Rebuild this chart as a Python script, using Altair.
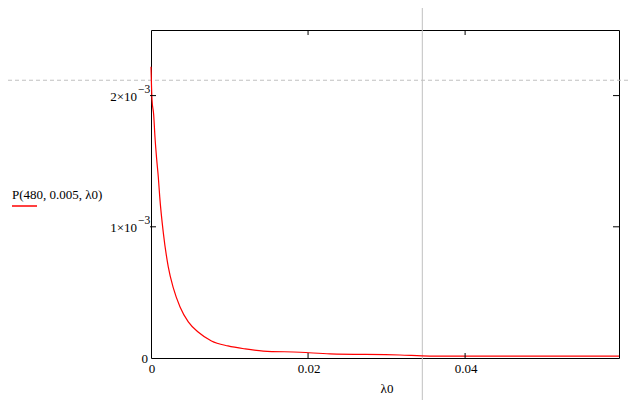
import altair as alt
import pandas as pd

# curve values
lam = [0, 0.000127, 0.00034, 0.00051, 0.00073, 0.00093, 0.00111, 0.00157, 0.0022,
       0.00284, 0.0037, 0.00475, 0.0060, 0.0077, 0.0098, 0.012, 0.0143, 0.019,
       0.0228, 0.0317, 0.0355, 0.0596]
P = [2.22e-3, 1.97e-3, 1.855e-3, 1.68e-3, 1.51e-3, 1.38e-3, 1.23e-3, 0.954e-3, 0.695e-3,
     0.534e-3, 0.389e-3, 0.275e-3, 0.198e-3, 0.130e-3, 0.092e-3, 0.069e-3, 0.053e-3, 0.044e-3,
     0.031e-3, 0.023e-3, 0.015e-3, 0.015e-3]

x_ticks = [0, 0.02, 0.04]
x_tick_labels = ["0", "0.02", "0.04"]
y_ticks = [0, 1e-3, 2e-3]
y_tick_main = ["0", "1×10", "2×10"]
y_tick_exp = ["", "−3", "−3"]
cross_x = [0.03455]
cross_y = [2.117e-3]
legend_label = ["P(480, 0.005, λ0)"]
x_title = ["λ0"]

W, H = 468, 328
FONT = "Liberation Serif"

xs = alt.Scale(domain=[0, 0.0596], nice=False, zero=False)
ys = alt.Scale(domain=[0, 0.0025], nice=False, zero=False)

curve = pd.DataFrame({"lam": lam, "P": P})
xt = pd.DataFrame({"v": x_ticks, "t": x_tick_labels})
yt = pd.DataFrame({"v": y_ticks, "m": y_tick_main, "e": y_tick_exp})
cx = pd.DataFrame({"v": cross_x})
cy = pd.DataFrame({"v": cross_y})
lg = pd.DataFrame({"t": legend_label})
xtit = pd.DataFrame({"t": x_title})

X = lambda f: alt.X(f, type="quantitative", scale=xs, axis=None)
Y = lambda f: alt.Y(f, type="quantitative", scale=ys, axis=None)

vline = alt.Chart(cx).mark_rule(color="#c0c0c0", strokeWidth=1).encode(
    x=X("v"), y=alt.value(-22), y2=alt.value(H + 42))
hline = alt.Chart(cy).mark_rule(color="#c0c0c0", strokeWidth=1, strokeDash=[4, 3]).encode(
    y=Y("v"), x=alt.value(-143), x2=alt.value(W + 9))

line = alt.Chart(curve).mark_line(color="#ff0000", strokeWidth=1.2, interpolate="monotone").encode(
    x=X("lam"), y=Y("P"))

xt_nz = alt.Chart(xt).transform_filter("datum.v > 0")
tick_b = xt_nz.mark_rule(color="black").encode(x=X("v"), y=alt.value(H), y2=alt.value(H - 5))
tick_t = xt_nz.mark_rule(color="black").encode(x=X("v"), y=alt.value(0), y2=alt.value(5))
yt_nz = alt.Chart(yt).transform_filter("datum.v > 0")
tick_l = yt_nz.mark_rule(color="black").encode(y=Y("v"), x=alt.value(-1), x2=alt.value(5))
tick_r = yt_nz.mark_rule(color="black").encode(y=Y("v"), x=alt.value(W - 6), x2=alt.value(W))

xlab = alt.Chart(xt).mark_text(font=FONT, fontSize=13, color="black", baseline="middle",
                               align="center", dx=1).encode(
    x=X("v"), y=alt.value(H + 11), text="t:N")

ylab_zero = alt.Chart(yt).transform_filter("datum.v == 0").mark_text(
    font=FONT, fontSize=13, color="black", baseline="middle", align="right", dy=1).encode(
    y=Y("v"), x=alt.value(-3), text="m:N")
ylab_main = yt_nz.mark_text(font=FONT, fontSize=13, color="black", baseline="middle",
                            align="right", dy=1.5).encode(
    y=Y("v"), x=alt.value(-14), text="m:N")
ylab_exp = yt_nz.mark_text(font=FONT, fontSize=11.5, color="black", baseline="middle",
                           align="left", dy=-6).encode(
    y=Y("v"), x=alt.value(-13), text="e:N")

xtitle = alt.Chart(xtit).mark_text(font=FONT, fontSize=13, color="black", baseline="middle",
                                   align="center").encode(
    x=alt.value(236), y=alt.value(359), text="t:N")

legend_text = alt.Chart(lg).mark_text(font=FONT, fontSize=13, color="black", baseline="middle",
                                      align="left").encode(
    x=alt.value(-139), y=alt.value(165), text="t:N")
legend_line = alt.Chart(lg).mark_rule(color="#ff0000", strokeWidth=1.5).encode(
    x=alt.value(-139), x2=alt.value(-114), y=alt.value(176))

chart = alt.layer(
    vline, hline, line, tick_b, tick_t, tick_l, tick_r,
    xlab, ylab_zero, ylab_main, ylab_exp, xtitle, legend_text, legend_line
).properties(
    width=W, height=H,
    autosize=alt.AutoSizeParams(type="none"),
    padding={"left": 143, "top": 22, "right": 9, "bottom": 42},
    background="white",
).configure_view(stroke="black", strokeWidth=1)

chart.save("out.html", embed_options={"renderer": "svg", "actions": False})
